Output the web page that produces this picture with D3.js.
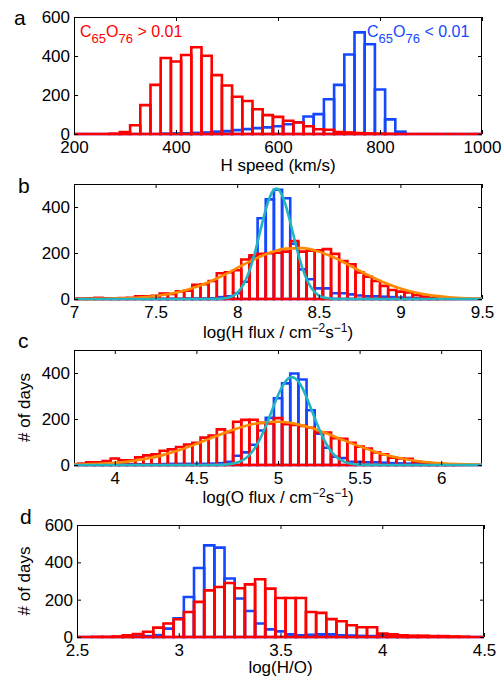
<!DOCTYPE html>
<html><head><meta charset="utf-8">
<script src="https://cdn.jsdelivr.net/npm/d3@7"></script>
<style>
body{margin:0;background:#fff}
text{font-family:"Liberation Sans",Arial,Helvetica,sans-serif;fill:#000}
</style>
</head><body>
<svg id="chart" width="504" height="679"></svg>
<script>
// ---------------- DATA ----------------
// Panel a: H speed histogram, bins centred 200..1000 km/s every 20
const aBinStart = 200, aBinStep = 20;
const aRed  = [0,0,0,0,2,10,45,148,252,390,372,405,445,401,302,249,191,169,127,97,88,68,59,40,24,22,10,8,5,3,2,1,0,0,0,0,0,0,0,0,0];
const aBlue = [0,0,0,0,0,0,0,0,0,2,3,4,6,8,12,15,20,25,30,34,40,50,60,90,102,178,252,408,521,460,228,75,12,0,0,0,0,0,0,0,0];
const aXTicks = [200,400,600,800,1000];
const aYTicks = [0,200,400,600];

// Panel b: log(H flux), bins centred 7.0..9.5 every 0.05
const bBinStart = 7.0, bBinStep = 0.05;
const bRed  = [2,2,3,5,3,2,4,5,12,12, 14,24,22,33,36,62,64,78,112,116, 125,172,190,196,199,201,206,252,206,210, 212,217,196,165,151,115,97,78,57,39, 32,28,17,10,4,2,1,0,0,0, 0];
const bBlue = [0,0,0,0,0,0,0,0,0,1, 1,1,1,1,2,2,2,3,8,12, 25,75,181,351,433,475,438,240,129,86, 46,46,25,25,20,15,12,12,10,8, 6,5,3,2,1,0,0,0,0,0, 0];
const bOrangeX = [7.0,7.1,7.2,7.3,7.4,7.5,7.6,7.7,7.8,7.9,8.0,8.1,8.2,8.3,8.4,8.5,8.6,8.7,8.8,8.9,9.0,9.1,9.2,9.3,9.4,9.5];
const bOrangeY = [0.2,0.5,1.2,2.9,6.3,12.8,23.9,41.3,66,98,135,171,201,219,221,206,178,142,105,72,46,27,14.6,7.3,3.4,1.5];
const bCyanX = [7.0,7.8,7.85,7.9,7.925,7.95,7.975,8.0,8.025,8.05,8.075,8.1,8.125,8.15,8.175,8.2,8.225,8.24,8.25,8.275,8.3,8.325,8.35,8.375,8.4,8.425,8.45,8.475,8.5,8.525,8.55,8.575,8.6,8.7,9.5];
const bCyanY = [0,0,0.2,1.5,3.4,7,14,27,48,79,123,180,248,320,389,443,475,480,478,451,401,334,262,193,133,87,53,30,16,8,4,1.8,0.7,0,0];
const bXTicks = [7,7.5,8,8.5,9,9.5];
const bYTicks = [0,200,400];

// Panel c: log(O flux), bins centred 3.75..6.25 every 0.05
const cBinStart = 3.75, cBinStep = 0.05;
const cRed  = [3,6,12,12,17,28,20,20,33,42, 46,62,68,78,89,96,119,128,155,143, 188,196,197,183,181,204,177,174,170,162, 141,141,116,114,97,80,72,55,46,32, 28,27,14,12,5,3,2,1,0,0, 0];
const cBlue = [0,0,1,1,2,2,3,3,3,3, 3,4,5,5,5,5,5,6,8,14, 40,55,88,150,205,290,355,398,372,238, 136,75,36,30,14,14,12,12,10,8, 7,6,5,4,3,2,1,0,0,0, 0];
const cOrangeX = [3.75,3.8,3.9,4.0,4.1,4.2,4.3,4.4,4.5,4.6,4.7,4.8,4.9,5.0,5.1,5.2,5.3,5.4,5.5,5.6,5.7,5.8,5.9,6.0,6.1,6.2,6.25];
const cOrangeY = [1.7,2.4,4.9,9.3,16.7,28,44,66,92,120,147,170,184,188,180,162,137,108,81,57,37,23,13,7.3,3.7,1.8,1.2];
const cCyanX = [3.75,4.5,4.6,4.625,4.65,4.675,4.7,4.725,4.75,4.775,4.8,4.825,4.85,4.875,4.9,4.925,4.95,4.975,5.0,5.025,5.05,5.075,5.085,5.1,5.125,5.15,5.175,5.2,5.225,5.25,5.275,5.3,5.325,5.35,5.375,5.4,5.425,5.45,5.475,5.5,5.55,5.65,6.25];
const cCyanY = [0,0,0.2,0.4,0.9,1.8,3.3,6,10.5,17.6,28,44,65,93,128,168,213,259,303,340,367,381,382,379,363,334,295,250,204,160,120,87,60,40,26,16,9.4,5.4,2.9,1.5,0.4,0,0];
const cXTicks = [4,4.5,5,5.5,6];
const cYTicks = [0,200,400];

// Panel d: log(H/O), bins centred 2.5..4.5 every 0.05
const dBinStart = 2.5, dBinStep = 0.05;
const dRed  = [0,0,1,1,3,9,16,28,50,72, 95,134,188,250,268,289,261,282,309,259, 209,209,209,134,129,96,84,63,52,52, 18,14,9,7,7,5,5,3,2,0, 0];
const dBlue = [0,0,0,0,0,1,3,5,10,45, 100,214,370,491,479,313,206,139,72,41, 30,14,9,12,14,14,9,8,6,5, 4,3,2,1,0,0,0,0,0,0, 0];
const dXTicks = [2.5,3,3.5,4,4.5];
const dYTicks = [0,200,400,600];

// ---------------- DRAWING ----------------
const RED = '#ff0000', BLUE = '#1448ff', CYAN = '#22b4c0', ORANGE = '#ff8a00';
const svg = d3.select('#chart');

function panel(o){
  const x = d3.scaleLinear().domain(o.xDomain).range([o.left, o.right]);
  const y = d3.scaleLinear().domain(o.yDomain).range([o.bottom, o.top]);
  const g = svg.append('g');
  g.append('clipPath').attr('id','clip'+o.id).append('rect')
    .attr('x',o.left).attr('y',o.top-3).attr('width',o.right-o.left).attr('height',o.bottom-o.top+5);

  // frame
  g.append('rect').attr('x',o.left+0.5).attr('y',o.top+0.5)
    .attr('width',o.right-o.left-1).attr('height',o.bottom-o.top)
    .attr('fill','none').attr('stroke','#000').attr('stroke-width',1);

  const data = g.append('g').attr('clip-path','url(#clip'+o.id+')');
  const half = o.binStep/2;
  function bars(vals, color){
    data.append('g').selectAll('path').data(vals).join('path')
      .attr('d',(d,i)=>{
        const x0 = x(o.binStart+i*o.binStep-half), x1 = x(o.binStart+i*o.binStep+half);
        const y0 = y(0), y1 = y(d);
        return `M${x0},${y0}L${x0},${y1}L${x1},${y1}L${x1},${y0}Z`;
      })
      .attr('fill','none').attr('stroke',color).attr('stroke-width',2.6)
      .attr('stroke-linejoin','miter');
  }
  bars(o.blue, BLUE);
  bars(o.red, RED);
  const line = d3.line().x(d=>x(d[0])).y(d=>y(d[1])).curve(d3.curveMonotoneX);
  if(o.orangeX){
    data.append('path').datum(o.orangeX.map((v,i)=>[v,o.orangeY[i]]))
      .attr('d',line).attr('fill','none').attr('stroke',ORANGE).attr('stroke-width',2.6);
  }
  if(o.cyanX){
    data.append('path').datum(o.cyanX.map((v,i)=>[v,o.cyanY[i]]))
      .attr('d',line).attr('fill','none').attr('stroke',CYAN).attr('stroke-width',2.6);
  }

  const fmt = d=>String(d);
  const ax = [
    g.append('g').attr('transform',`translate(0,${o.bottom})`)
      .call(d3.axisBottom(x).tickValues(o.xTicks).tickSize(-4).tickPadding(7).tickFormat(fmt)),
    g.append('g').attr('transform',`translate(0,${o.top})`)
      .call(d3.axisTop(x).tickValues(o.xTicks).tickSize(-4).tickFormat('')),
    g.append('g').attr('transform',`translate(${o.left},0)`)
      .call(d3.axisLeft(y).tickValues(o.yTicks).tickSize(-4).tickPadding(4).tickFormat(fmt)),
    g.append('g').attr('transform',`translate(${o.right},0)`)
      .call(d3.axisRight(y).tickValues(o.yTicks).tickSize(-4).tickFormat(''))
  ];
  ax.forEach(a=>{
    a.select('.domain').remove();
    a.selectAll('line').attr('stroke','#000').attr('stroke-width',1);
    a.selectAll('text').attr('font-size',17).attr('fill','#000')
      .attr('font-family','"Liberation Sans",Arial,sans-serif');
  });

  // panel letter
  svg.append('text').attr('x',o.letterX).attr('y',o.letterY)
    .attr('font-size',21).text(o.letter);

  // x title
  const t = svg.append('text').attr('x',(o.left+o.right)/2).attr('y',o.titleY)
    .attr('text-anchor','middle').attr('font-size',17);
  o.title.forEach(p=>{
    const s = t.append('tspan').text(p.t);
    if(p.sup){ s.attr('dy',-6).attr('font-size',12); }
    else if(p.after){ s.attr('dy',6); }
  });

  if(o.ylabel){
    svg.append('text').attr('transform',`translate(29.5,${(o.top+o.bottom)/2}) rotate(-90)`)
      .attr('text-anchor','middle').attr('font-size',17).text(o.ylabel);
  }
}

panel({id:'a', left:74, right:482, top:17, bottom:134, xDomain:[200,1000], yDomain:[0,600],
  xTicks:aXTicks, yTicks:aYTicks, binStart:aBinStart, binStep:aBinStep, red:aRed, blue:aBlue,
  letter:'a', letterX:14, letterY:25, title:[{t:'H speed (km/s)'}], titleY:171});

panel({id:'b', left:74, right:482, top:184, bottom:299, xDomain:[7,9.5], yDomain:[0,500],
  xTicks:bXTicks, yTicks:bYTicks, binStart:bBinStart, binStep:bBinStep, red:bRed, blue:bBlue,
  orangeX:bOrangeX, orangeY:bOrangeY, cyanX:bCyanX, cyanY:bCyanY,
  letter:'b', letterX:18, letterY:193,
  title:[{t:'log(H flux / cm'},{t:'\u22122',sup:true},{t:'s',after:true},{t:'\u22121',sup:true},{t:')',after:true}], titleY:338});

panel({id:'c', left:74, right:482, top:350, bottom:465, xDomain:[3.75,6.25], yDomain:[0,500],
  xTicks:cXTicks, yTicks:cYTicks, binStart:cBinStart, binStep:cBinStep, red:cRed, blue:cBlue,
  orangeX:cOrangeX, orangeY:cOrangeY, cyanX:cCyanX, cyanY:cCyanY,
  letter:'c', letterX:18, letterY:348,
  title:[{t:'log(O flux / cm'},{t:'\u22122',sup:true},{t:'s',after:true},{t:'\u22121',sup:true},{t:')',after:true}], titleY:503,
  ylabel:'# of days'});

panel({id:'d', left:77, right:484, top:525, bottom:637, xDomain:[2.5,4.5], yDomain:[0,600],
  xTicks:dXTicks, yTicks:dYTicks, binStart:dBinStart, binStep:dBinStep, red:dRed, blue:dBlue,
  letter:'d', letterX:20, letterY:524, title:[{t:'log(H/O)'}], titleY:673,
  ylabel:'# of days'});

// legend texts in panel a
function legend(xp, yp, color, rel){
  const t = svg.append('text').attr('x',xp).attr('y',yp).attr('font-size',16).attr('fill',color);
  t.append('tspan').text('C').attr('fill',color);
  t.append('tspan').text('65').attr('dy',6).attr('font-size',13).attr('fill',color);
  t.append('tspan').text('O').attr('dy',-6).attr('fill',color);
  t.append('tspan').text('76').attr('dy',6).attr('font-size',13).attr('fill',color);
  t.append('tspan').text(' ' + rel + ' 0.01').attr('dy',-6).attr('fill',color);
}
legend(80, 37, RED, '>');
legend(367, 37, BLUE, '<');
</script>
</body></html>
